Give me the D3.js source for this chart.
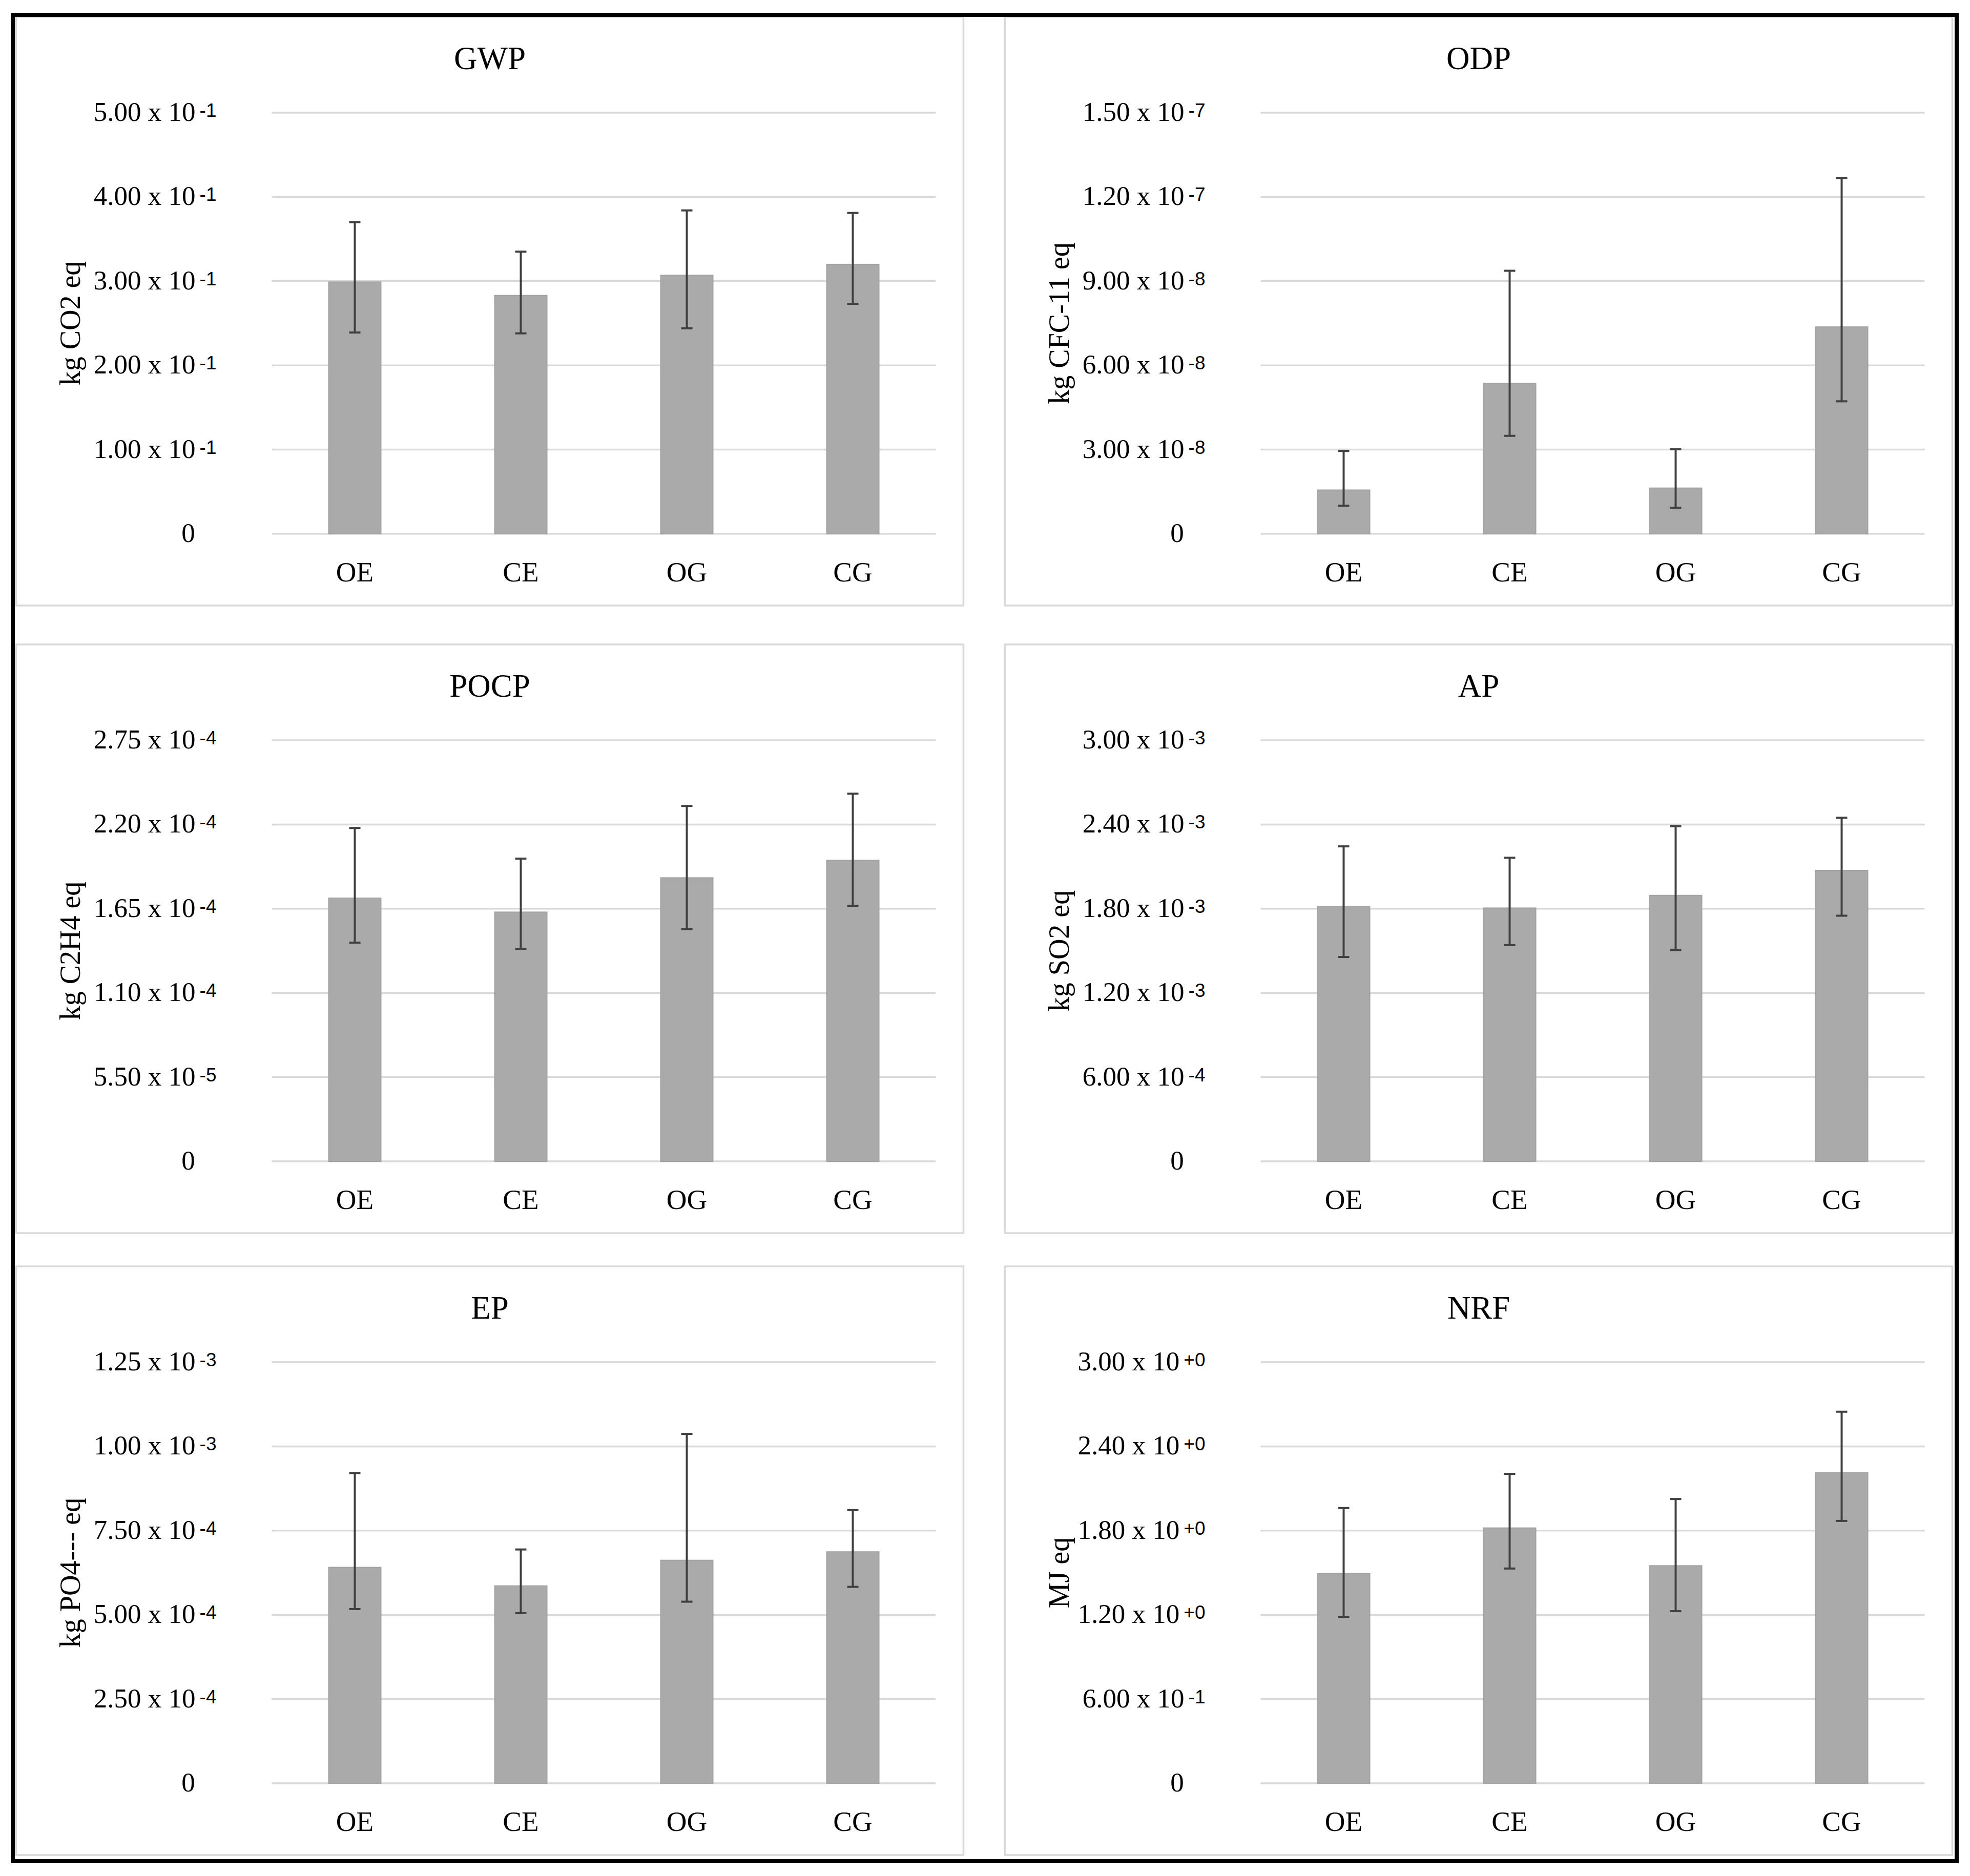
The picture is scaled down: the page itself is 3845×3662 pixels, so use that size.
<!DOCTYPE html>
<html>
<head>
<meta charset="utf-8">
<script src="https://cdn.jsdelivr.net/npm/d3@7"></script>
<style>
  body { margin: 0; background: #fff; }
  svg { display: block; }
</style>
</head>
<body>
<svg id="chart"></svg>
<script>
// categories shared by all six panels
const categories = ['OE', 'CE', 'OG', 'CG']

// panel titles and y axis titles
const panelTitles = ['GWP', 'ODP', 'POCP', 'AP', 'EP', 'NRF']
const unitLabels = ['kg CO2 eq', 'kg CFC-11 eq', 'kg C2H4 eq', 'kg SO2 eq', 'kg PO4--- eq', 'MJ eq']

// mean values (bar heights)
const gwpMean = [0.299, 0.283, 0.307, 0.320]
const odpMean = [1.56e-8, 5.36e-8, 1.63e-8, 7.37e-8]
const pocpMean = [1.719e-4, 1.628e-4, 1.852e-4, 1.966e-4]
const apMean = [1.817e-3, 1.805e-3, 1.895e-3, 2.073e-3]
const epMean = [6.41e-4, 5.86e-4, 6.62e-4, 6.87e-4]
const nrfMean = [1.493, 1.819, 1.550, 2.213]

// error bar ends (upper / lower)
const gwpHigh = [0.370, 0.335, 0.384, 0.381]
const gwpLow = [0.239, 0.238, 0.244, 0.273]
const odpHigh = [2.95e-8, 9.37e-8, 3.01e-8, 12.67e-8]
const odpLow = [1.00e-8, 3.49e-8, 0.93e-8, 4.72e-8]
const pocpHigh = [2.177e-4, 1.977e-4, 2.321e-4, 2.401e-4]
const pocpLow = [1.428e-4, 1.388e-4, 1.516e-4, 1.668e-4]
const apHigh = [2.244e-3, 2.163e-3, 2.387e-3, 2.448e-3]
const apLow = [1.456e-3, 1.541e-3, 1.506e-3, 1.750e-3]
const epHigh = [9.21e-4, 6.94e-4, 10.37e-4, 8.11e-4]
const epLow = [5.17e-4, 5.05e-4, 5.39e-4, 5.83e-4]
const nrfHigh = [1.961, 2.204, 2.025, 2.647]
const nrfLow = [1.186, 1.530, 1.226, 1.869]

// axis maxima and tick labels ("^" marks the superscript part)
const axisMax = [0.5, 1.5e-7, 2.75e-4, 3.0e-3, 1.25e-3, 3.0]
const gwpTicks = ['0', '1.00 x 10^-1', '2.00 x 10^-1', '3.00 x 10^-1', '4.00 x 10^-1', '5.00 x 10^-1']
const odpTicks = ['0', '3.00 x 10^-8', '6.00 x 10^-8', '9.00 x 10^-8', '1.20 x 10^-7', '1.50 x 10^-7']
const pocpTicks = ['0', '5.50 x 10^-5', '1.10 x 10^-4', '1.65 x 10^-4', '2.20 x 10^-4', '2.75 x 10^-4']
const apTicks = ['0', '6.00 x 10^-4', '1.20 x 10^-3', '1.80 x 10^-3', '2.40 x 10^-3', '3.00 x 10^-3']
const epTicks = ['0', '2.50 x 10^-4', '5.00 x 10^-4', '7.50 x 10^-4', '1.00 x 10^-3', '1.25 x 10^-3']
const nrfTicks = ['0', '6.00 x 10^-1', '1.20 x 10^+0', '1.80 x 10^+0', '2.40 x 10^+0', '3.00 x 10^+0']

const means = [gwpMean, odpMean, pocpMean, apMean, epMean, nrfMean]
const highs = [gwpHigh, odpHigh, pocpHigh, apHigh, epHigh, nrfHigh]
const lows = [gwpLow, odpLow, pocpLow, apLow, epLow, nrfLow]
const tickLabels = [gwpTicks, odpTicks, pocpTicks, apTicks, epTicks, nrfTicks]

const panels = panelTitles.map((t, i) => ({
  title: t,
  unit: unitLabels[i],
  max: axisMax[i],
  ticks: tickLabels[i],
  rows: categories.map((c, j) => ({ cat: c, mean: means[i][j], high: highs[i][j], low: lows[i][j] })),
}))

// layout
const width = 3845
const height = 3662
const colX = [31.5, 1961.5]
const rowY = [33, 1258, 2472]
const panelW = 1849
const panelH = 1149
const plotTop = 187
const plotBottom = 1009
const plotLeft = 499
const plotRight = 1795
const barWidth = 102
const capWidth = 22
const labelEnd = 391
const zeroX = 336

const serif = "'Liberation Serif', 'Times New Roman', serif"
const sans = "'Liberation Sans', Arial, sans-serif"

const svg = d3.select('#chart').attr('width', width).attr('height', height)

svg.append('rect')
  .attr('width', width)
  .attr('height', height)
  .attr('fill', '#fff')

const x = d3.scaleBand().domain(categories).range([plotLeft, plotRight])

panels.forEach((p, i) => {
  const g = svg.append('g')
    .attr('id', p.title)
    .attr('transform', `translate(${colX[i % 2]},${rowY[Math.floor(i / 2)]})`)

  // panel frame
  g.append('rect')
    .attr('width', panelW)
    .attr('height', panelH)
    .attr('fill', '#fff')
    .attr('stroke', '#d9d9d9')
    .attr('stroke-width', 3.5)

  const y = d3.scaleLinear().domain([0, p.max]).range([plotBottom, plotTop])
  const tickValues = p.ticks.map((t, k) => (p.max * k) / (p.ticks.length - 1))

  // grid
  g.append('g')
    .selectAll('line')
    .data(tickValues)
    .join('line')
    .attr('x1', plotLeft)
    .attr('x2', plotRight)
    .attr('y1', (d) => y(d))
    .attr('y2', (d) => y(d))
    .attr('stroke', '#d9d9d9')
    .attr('stroke-width', 3.5)

  // tick labels
  const labels = g.append('g')
    .selectAll('text')
    .data(tickValues)
    .join('text')
    .attr('y', (d) => y(d) + 16)
    .attr('x', (d, k) => (k === 0 ? zeroX : labelEnd))
    .attr('text-anchor', (d, k) => (k === 0 ? 'middle' : 'end'))
    .attr('font-family', serif)
    .attr('font-size', 53)
    .attr('fill', '#000')

  labels.each(function (d, k) {
    const parts = p.ticks[k].split('^')
    const t = d3.select(this)
    t.append('tspan').text(parts[0])
    if (parts[1]) {
      t.append('tspan')
        .attr('dx', 8)
        .attr('dy', -8)
        .attr('font-family', sans)
        .attr('font-size', 37)
        .text(parts[1])
    }
  })

  // bars
  g.append('g')
    .selectAll('rect')
    .data(p.rows)
    .join('rect')
    .attr('x', (d) => x(d.cat) + x.bandwidth() / 2 - barWidth / 2)
    .attr('y', (d) => y(d.mean))
    .attr('width', barWidth)
    .attr('height', (d) => y(0) - y(d.mean))
    .attr('fill', '#aaaaaa')
    .attr('stroke', '#a2a2a2')
    .attr('stroke-width', 2)

  // error bars
  const err = g.append('g')
    .attr('stroke', '#404040')
    .attr('stroke-width', 4)
    .selectAll('g')
    .data(p.rows)
    .join('g')
    .attr('transform', (d) => `translate(${x(d.cat) + x.bandwidth() / 2},0)`)

  err.append('line')
    .attr('y1', (d) => y(d.high))
    .attr('y2', (d) => y(d.low))
  err.append('line')
    .attr('x1', -capWidth / 2)
    .attr('x2', capWidth / 2)
    .attr('y1', (d) => y(d.high))
    .attr('y2', (d) => y(d.high))
  err.append('line')
    .attr('x1', -capWidth / 2)
    .attr('x2', capWidth / 2)
    .attr('y1', (d) => y(d.low))
    .attr('y2', (d) => y(d.low))

  // category labels
  g.append('g')
    .selectAll('text')
    .data(categories)
    .join('text')
    .attr('x', (d) => x(d) + x.bandwidth() / 2)
    .attr('y', 1102)
    .attr('text-anchor', 'middle')
    .attr('font-family', serif)
    .attr('font-size', 55)
    .text((d) => d)

  // title
  g.append('text')
    .attr('x', panelW / 2)
    .attr('y', 102)
    .attr('text-anchor', 'middle')
    .attr('font-family', serif)
    .attr('font-size', 63)
    .text(p.title)

  // y axis title
  g.append('text')
    .attr('transform', `translate(${124},${(plotTop + plotBottom) / 2}) rotate(-90)`)
    .attr('text-anchor', 'middle')
    .attr('font-family', serif)
    .attr('font-size', 56)
    .text(p.unit)
})

// outer black frame
svg.append('rect')
  .attr('x', 25)
  .attr('y', 29)
  .attr('width', 3794)
  .attr('height', 3604)
  .attr('fill', 'none')
  .attr('stroke', '#000')
  .attr('stroke-width', 8)
</script>
</body>
</html>
